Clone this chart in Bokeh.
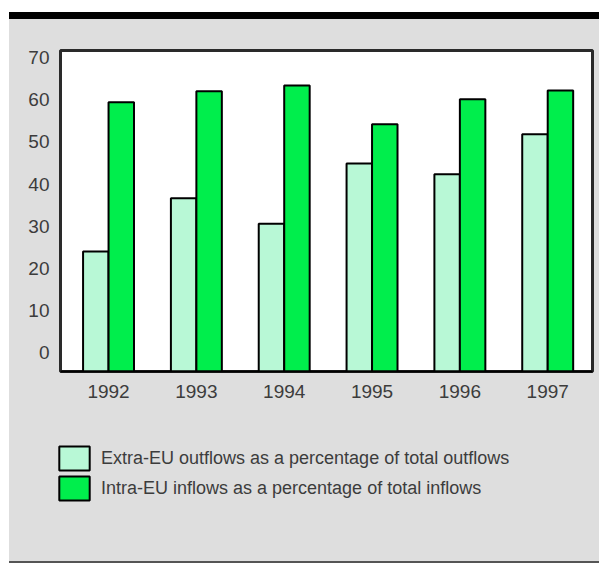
from bokeh.plotting import figure
from bokeh.models import Legend, LegendItem, Div, FixedTicker, Range1d
from bokeh.layouts import column
from bokeh.embed import file_html
from bokeh.resources import INLINE

# Years and the two shares (%) for each year
years = ["1992", "1993", "1994", "1995", "1996", "1997"]
extra_eu_outflows = [24.0, 36.6, 30.6, 44.9, 42.3, 51.8]
intra_eu_inflows = [59.4, 62.0, 63.4, 54.2, 60.1, 62.2]
y_ticks = [0, 10, 20, 30, 40, 50, 60, 70]
series_labels = [
    "Extra-EU outflows as a percentage of total outflows",
    "Intra-EU inflows as a percentage of total inflows",
]

light_green = "#b8f8d6"
bright_green = "#00ee4c"
panel_gray = "#dedede"
text_gray = "#3c3c3c"
FONT = "Liberation Sans"

x_idx = list(range(len(years)))
y_floor = -4.5
bw = 0.29
bar_style = dict(line_color="black", line_width=2)

# ---- main bar chart ----
p = figure(
    width=590, height=401,
    x_range=Range1d(-0.547, 5.51),
    y_range=Range1d(y_floor, 71.7),
    output_backend="svg", toolbar_location=None,
    min_border_left=51, min_border_right=7,
    min_border_top=31, min_border_bottom=49,
)
p.margin = 0
p.border_fill_color = panel_gray
p.background_fill_color = "white"
p.outline_line_color = "#2a2a2a"
p.outline_line_width = 3
p.xgrid.visible = False
p.ygrid.visible = False

p.vbar(x=[i - bw / 2 for i in x_idx], top=extra_eu_outflows, bottom=y_floor,
       width=bw, fill_color=light_green, **bar_style)
p.vbar(x=[i + bw / 2 for i in x_idx], top=intra_eu_inflows, bottom=y_floor,
       width=bw, fill_color=bright_green, **bar_style)

# x axis: year labels under each pair
p.xaxis.ticker = FixedTicker(ticks=x_idx)
p.xaxis.major_label_overrides = {i: y for i, y in zip(x_idx, years)}
p.xaxis.axis_line_color = "black"
p.xaxis.axis_line_width = 2
p.xaxis.major_tick_line_color = None
p.xaxis.minor_tick_line_color = None
p.xaxis.major_label_standoff = 7
p.xaxis.major_label_text_font = FONT
p.xaxis.major_label_text_font_size = "19px"
p.xaxis.major_label_text_color = text_gray

# y axis: percentage ticks
p.yaxis.ticker = FixedTicker(ticks=y_ticks)
p.yaxis.axis_line_color = None
p.yaxis.major_tick_line_color = None
p.yaxis.minor_tick_line_color = None
p.yaxis.major_label_standoff = 5
p.yaxis.major_label_text_font = FONT
p.yaxis.major_label_text_font_size = "19px"
p.yaxis.major_label_text_color = text_gray

# ---- legend strip below the chart ----
lg = figure(
    width=590, height=141,
    x_range=Range1d(-10, -9), y_range=Range1d(-10, -9),
    x_axis_location=None, y_axis_location=None,
    output_backend="svg", toolbar_location=None,
    min_border=0,
)
lg.frame_align = False
lg.margin = 0
lg.border_fill_color = panel_gray
lg.background_fill_color = panel_gray
lg.outline_line_color = None
lg.xgrid.visible = False
lg.ygrid.visible = False
# hidden copies of the two series, used only for their legend keys
k1 = lg.vbar(x=x_idx, top=extra_eu_outflows, width=bw,
             fill_color=light_green, visible=False, **bar_style)
k2 = lg.vbar(x=x_idx, top=intra_eu_inflows, width=bw,
             fill_color=bright_green, visible=False, **bar_style)

legend = Legend(
    items=[
        LegendItem(label=series_labels[0], renderers=[k1]),
        LegendItem(label=series_labels[1], renderers=[k2]),
    ],
    location=(46, 58),
    orientation="vertical",
    glyph_width=38, glyph_height=30,
    spacing=0, padding=0, margin=0,
    label_standoff=8,
    label_text_font=FONT,
    label_text_font_size="18px",
    label_text_color=text_gray,
    border_line_color=None,
    background_fill_alpha=0,
    inactive_fill_alpha=0,
)
lg.add_layout(legend, "center")

top_band = Div(width=590, height=7, margin=0,
               styles={"background-color": "black"})
bottom_rule = Div(width=590, height=2, margin=0,
                  styles={"background-color": "#555555"})

layout = column(top_band, p, lg, bottom_rule, spacing=0)
layout.margin = (12, 0, 0, 9)
layout.styles = {"background-color": panel_gray}

open("out.html", "w").write(file_html(layout, INLINE))
